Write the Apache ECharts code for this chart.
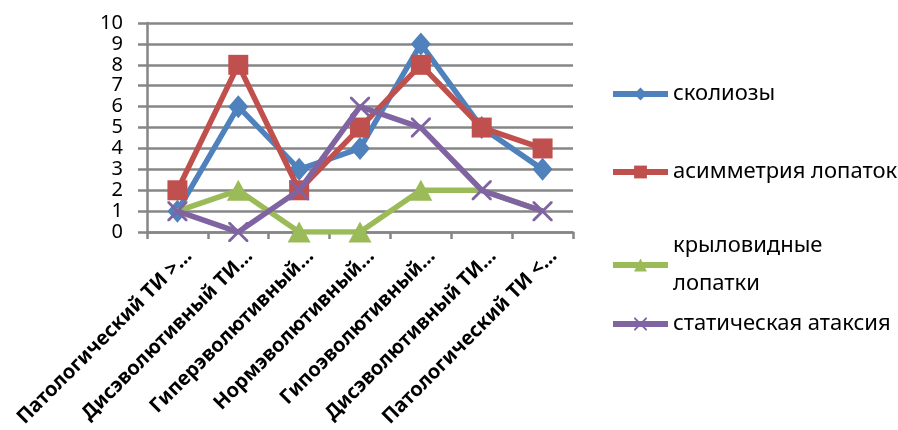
<!DOCTYPE html>
<html><head><meta charset="utf-8">
<script src="https://cdn.jsdelivr.net/npm/echarts@6/dist/echarts.min.js"></script>
<style>html,body{margin:0;padding:0;background:#fff}#c{width:898px;height:430px}</style>
</head><body><div id="c"></div>
<script>
const categories = ["Патологический ТИ >…","Дисэволютивный ТИ…","Гиперэволютивный…","Нормэволютивный…","Гипоэволютивный…","Дисэволютивный ТИ…","Патологический ТИ <…"];
const scoliosis = [1, 6, 3, 4, 9, 5, 3];
const scapulaAsym = [2, 8, 2, 5, 8, 5, 4];
const wingedScapula = [1, 2, 0, 0, 2, 2, 1];
const staticAtaxia = [1, 0, 2, 6, 5, 2, 1];
const yTicks = [0,1,2,3,4,5,6,7,8,9,10];
const seriesNames = ["сколиозы","асимметрия лопаток","крыловидные лопатки","статическая атаксия"];

const FONT = "Noto Sans";
const xPath = 'path://M0,0 L2,0 L10,8 L18,0 L20,0 L20,2 L12,10 L20,18 L20,20 L18,20 L10,12 L2,20 L0,20 L0,18 L8,10 L0,2 Z';

// green markers that sit under a purple X are covered in the original
const greenData = wingedScapula.map((v,i)=> v===staticAtaxia[i] ? {value:v, symbol:'none'} : v);

const chart = echarts.init(document.getElementById('c'), null, {renderer:'canvas'});
const mkLegend = (name, top) => ({
  data:[name], orient:'vertical', left:605, top:top, itemWidth:55, itemHeight:16, itemGap:0,
  textStyle:{fontFamily:FONT, fontSize:22, color:'#000', lineHeight:38},
  lineStyle:{width:6},
  formatter: n => n === "крыловидные лопатки" ? "крыловидные\nлопатки" : n,
  selectedMode:false
});
chart.setOption({
  animation:false,
  backgroundColor:'#fff',
  grid:{left:147, right:325, top:23, bottom:197, containLabel:false},
  legend:[mkLegend(seriesNames[0],70), mkLegend(seriesNames[1],148), mkLegend(seriesNames[2],222), mkLegend(seriesNames[3],300)],
  xAxis:{
    type:'category', data:categories, boundaryGap:true,
    axisLine:{lineStyle:{color:'#868686', width:2.5}},
    axisTick:{show:true, alignWithLabel:false, length:7, lineStyle:{color:'#868686', width:2.5}},
    axisLabel:{interval:0, rotate:45, fontFamily:FONT, fontSize:20, fontWeight:'bold', color:'#000', margin:32, padding:[0,-16,0,0]}
  },
  yAxis:{
    type:'value', min:0, max:10, interval:1,
    axisLine:{show:true, lineStyle:{color:'#868686', width:2.5}},
    axisTick:{show:true, length:9, lineStyle:{color:'#868686', width:2.5}},
    axisLabel:{fontFamily:FONT, fontSize:20, lineHeight:14, color:'#000', margin:24,
      showMinLabel:true, showMaxLabel:true, hideOverlap:false,
      formatter: v => yTicks.includes(v) ? String(v) : ''},
    splitLine:{lineStyle:{color:'#868686', width:2.5}}
  },
  series:[
    {name:seriesNames[0], type:'line', data:scoliosis, symbol:'diamond', symbolSize:[20,23],
      lineStyle:{width:5.5, color:'#4F81BD'}, itemStyle:{color:'#4F81BD'}, z:2},
    {name:seriesNames[1], type:'line', data:scapulaAsym, symbol:'rect', symbolSize:20,
      lineStyle:{width:5.5, color:'#C0504D'}, itemStyle:{color:'#C0504D'}, z:3},
    {name:seriesNames[2], type:'line', data:greenData, symbol:'triangle', symbolSize:[23,21],
      lineStyle:{width:5.5, color:'#9BBB59'}, itemStyle:{color:'#9BBB59'}, z:4},
    {name:seriesNames[3], type:'line', data:staticAtaxia, symbol:xPath, symbolSize:20,
      lineStyle:{width:5.5, color:'#8064A2'}, itemStyle:{color:'#8064A2'}, z:5}
  ]
});
</script></body></html>
